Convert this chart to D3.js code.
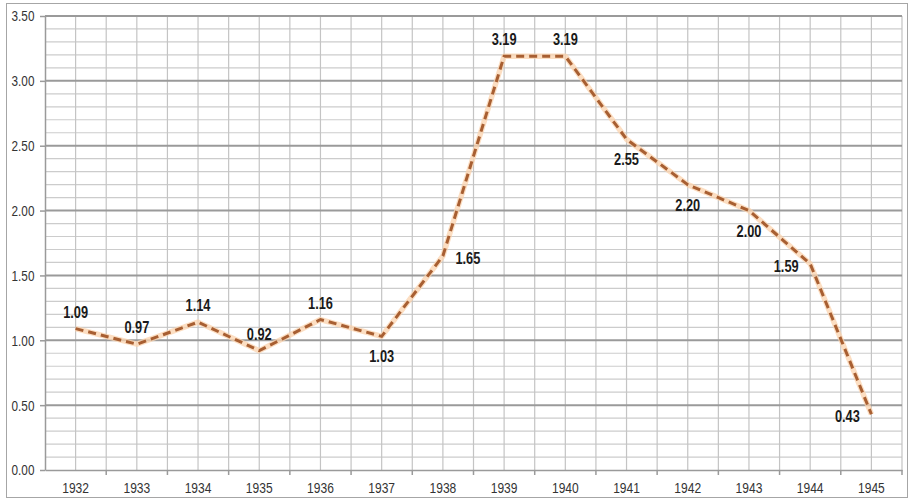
<!DOCTYPE html>
<html><head><meta charset="utf-8">
<script src="https://cdn.jsdelivr.net/npm/d3@7"></script>
<style>
html,body{margin:0;padding:0;background:#fff;}
svg{display:block;}
</style></head>
<body>
<svg id="chart" width="909" height="502"></svg>
<script>
const years = ["1932","1933","1934","1935","1936","1937","1938","1939","1940","1941","1942","1943","1944","1945"];
const values = [1.09,0.97,1.14,0.92,1.16,1.03,1.65,3.19,3.19,2.55,2.20,2.00,1.59,0.43];
const yTicks = [0,0.5,1,1.5,2,2.5,3,3.5];
// label placement: "above","below","right","left"
const labelPos = ["above","above","above","above","above","below","right","above","above","below","below","below","left","left"];

const svg = d3.select("#chart");
const W = 909, H = 502;
const m = {left:45, right:7, top:16, bottom:32};
const x0 = m.left, x1 = W - m.right, y0 = H - m.bottom, y1 = m.top;
const FONT = "'Liberation Sans','Arial',sans-serif";

// outer border
svg.append("rect").attr("x",6.5).attr("y",3.5).attr("width",901).attr("height",494)
  .attr("fill","#fff").attr("stroke","#a6a6a6").attr("stroke-width",1);

const x = d3.scaleBand().domain(years).range([x0,x1]).padding(0);
const y = d3.scaleLinear().domain([0,3.5]).range([y0,y1]);
const bw = x.bandwidth();

const g = svg.append("g");
// minor horizontal grid
const minor = d3.range(0,36).map(i=>i/10);
g.selectAll(".minor").data(minor.filter(v=>Math.round(v*10)%5!==0)).join("line")
  .attr("x1",x0).attr("x2",x1).attr("y1",d=>y(d)).attr("y2",d=>y(d))
  .attr("stroke","#cccccc").attr("stroke-width",1.2);
// vertical grid (centers and boundaries)
const vlines = [];
years.forEach(yr=>{vlines.push(x(yr)+bw/2); vlines.push(x(yr)+bw);});
g.selectAll(".vg").data(vlines).join("line")
  .attr("x1",d=>d).attr("x2",d=>d).attr("y1",y1).attr("y2",y0)
  .attr("stroke","#c4c4c4").attr("stroke-width",1.2);
// major horizontal grid
g.selectAll(".major").data(yTicks.filter(v=>v>0)).join("line")
  .attr("x1",x0).attr("x2",x1).attr("y1",d=>y(d)).attr("y2",d=>y(d))
  .attr("stroke","#9a9a9a").attr("stroke-width",2);

// y axis
const yAxis = d3.axisLeft(y).tickValues(yTicks).tickFormat(d3.format(".2f")).tickSize(5).tickSizeOuter(0);
const ya = svg.append("g").attr("transform",`translate(${x0},0)`).call(yAxis);
ya.select(".domain").attr("stroke","#9a9a9a").attr("stroke-width",1.5);
ya.selectAll(".tick line").attr("stroke","#9a9a9a").attr("stroke-width",1.5);
ya.selectAll(".tick text").attr("font-family",FONT).attr("font-size",14).attr("fill","#333")
  .attr("text-anchor","middle").attr("x",0).attr("dy","0.35em")
  .attr("transform","translate(-22,0) scale(0.84,1)");

// x axis
const xAxis = d3.axisBottom(x).tickSize(0).tickSizeOuter(0);
const xa = svg.append("g").attr("transform",`translate(0,${y0})`).call(xAxis);
xa.select(".domain").attr("stroke","#9a9a9a").attr("stroke-width",1.5);
xa.selectAll(".tick text").attr("font-family",FONT).attr("font-size",14).attr("fill","#333")
  .attr("y",0).attr("dy","0.71em").attr("transform","translate(0,13) scale(0.86,1)");
// boundary ticks
xa.selectAll(".bt").data(years).join("line")
  .attr("x1",d=>x(d)+bw).attr("x2",d=>x(d)+bw).attr("y1",0).attr("y2",5)
  .attr("stroke","#9a9a9a").attr("stroke-width",1.5);

// line
const line = d3.line().x((d,i)=>x(years[i])+bw/2).y(d=>y(d));
svg.append("path").datum(values).attr("d",line).attr("fill","none")
  .attr("stroke","#fbd3ad").attr("stroke-width",5.5).attr("stroke-linejoin","round").attr("opacity",0.75);
svg.append("path").datum(values).attr("d",line).attr("fill","none")
  .attr("stroke","#a85f32").attr("stroke-width",3).attr("stroke-dasharray","8,5");

// labels
const off = {above:[0,-11], below:[0,26], right:[25,8], left:[-24,8]};
svg.selectAll(".lbl").data(values).join("text")
  .attr("transform",(d,i)=>`translate(${x(years[i])+bw/2+off[labelPos[i]][0]},${y(d)+off[labelPos[i]][1]}) scale(0.8,1)`)
  .attr("text-anchor","middle")
  .attr("font-family",FONT)
  .attr("font-weight","bold").attr("font-size",16).attr("fill","#1a1a1a")
  .text(d=>d3.format(".2f")(d));
</script>
</body></html>
